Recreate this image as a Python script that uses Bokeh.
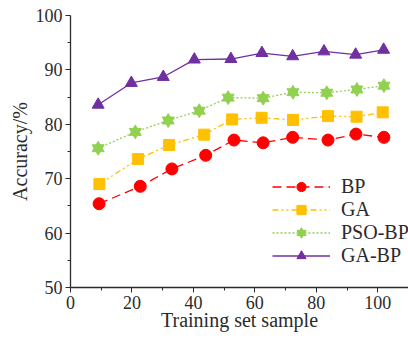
from bokeh.plotting import figure
from bokeh.models import FixedTicker, Range1d, Legend, LegendItem
from bokeh.embed import file_html
from bokeh.resources import INLINE

# Data
bp_x = [9.3, 22.7, 33.0, 44.0, 53.2, 62.7, 72.3, 83.8, 92.9, 102.0]
bp_y = [65.4, 68.6, 71.8, 74.3, 77.1, 76.6, 77.6, 77.1, 78.2, 77.6]
ga_x = [9.4, 22.0, 32.1, 43.5, 52.6, 62.2, 72.4, 83.8, 93.1, 101.6]
ga_y = [69.0, 73.6, 76.2, 78.1, 80.9, 81.2, 80.8, 81.5, 81.4, 82.2]
pso_x = [9.0, 21.1, 31.8, 41.9, 51.3, 62.7, 72.4, 83.4, 93.2, 102.0]
pso_y = [75.6, 78.6, 80.7, 82.5, 84.9, 84.8, 85.9, 85.8, 86.4, 87.1]
gabp_x = [9.0, 19.8, 30.2, 40.3, 52.2, 62.3, 72.3, 82.5, 92.8, 101.9]
gabp_y = [83.6, 87.6, 88.7, 91.9, 92.0, 93.1, 92.5, 93.4, 92.8, 93.7]

x_ticks = [0, 20, 40, 60, 80, 100]
x_minor = [10, 30, 50, 70, 90]
y_ticks = [50, 60, 70, 80, 90, 100]
y_minor = [55, 65, 75, 85, 95]

FONT = "Liberation Serif"
AX = "#2b2b2b"

p = figure(width=408, height=338, output_backend="svg", toolbar_location=None,
           x_range=Range1d(0, 110), y_range=Range1d(50, 100),
           min_border_left=70, min_border_right=0, min_border_top=15, min_border_bottom=51)
p.outline_line_color = None
p.xgrid.visible = False
p.ygrid.visible = False
p.background_fill_color = "white"

p.xaxis.ticker = FixedTicker(ticks=x_ticks, minor_ticks=x_minor)
p.yaxis.ticker = FixedTicker(ticks=y_ticks, minor_ticks=y_minor)
p.xaxis.axis_label = "Training set sample"
p.yaxis.axis_label = "Accuracy/%"
for ax in (p.xaxis, p.yaxis):
    ax.axis_line_color = AX
    ax.axis_line_width = 1.3
    ax.major_tick_line_color = AX
    ax.minor_tick_line_color = AX
    ax.major_tick_out = 5
    ax.major_tick_in = 0
    ax.minor_tick_out = 3
    ax.minor_tick_in = 0
    ax.major_label_text_font = FONT
    ax.major_label_text_font_size = "18px"
    ax.major_label_text_color = AX
    ax.axis_label_text_font = FONT
    ax.axis_label_text_font_size = "20px"
    ax.axis_label_text_font_style = "normal"
    ax.axis_label_text_color = AX
    ax.major_label_standoff = 3
    ax.axis_label_standoff = 2
p.xaxis.axis_label_standoff = -3

RED, ORANGE, GREEN, PURPLE = "#FF0000", "#FFC000", "#92D050", "#7030A0"

l1 = p.line(bp_x, bp_y, line_color=RED, line_width=1.3, line_dash="9 5")
m1 = p.scatter(bp_x, bp_y, marker="circle", size=12, fill_color=RED, line_color=RED)

l2 = p.line(ga_x, ga_y, line_color=ORANGE, line_width=1.3, line_dash="6 3 2 3 2 3")
m2 = p.scatter(ga_x, ga_y, marker="square", size=11, fill_color=ORANGE, line_color=ORANGE)

l3 = p.line(pso_x, pso_y, line_color=GREEN, line_width=1.3, line_dash="2 2")
m3a = p.scatter(pso_x, pso_y, marker="triangle", size=12, fill_color=GREEN, line_color=GREEN)
m3b = p.scatter(pso_x, pso_y, marker="inverted_triangle", size=12, fill_color=GREEN, line_color=GREEN)

l4 = p.line(gabp_x, gabp_y, line_color=PURPLE, line_width=1.3)
m4 = p.scatter(gabp_x, gabp_y, marker="triangle", size=12, fill_color=PURPLE, line_color=PURPLE)

legend = Legend(items=[
    LegendItem(label="BP", renderers=[l1, m1]),
    LegendItem(label="GA", renderers=[l2, m2]),
    LegendItem(label="PSO-BP", renderers=[l3, m3a, m3b]),
    LegendItem(label="GA-BP", renderers=[l4, m4]),
], location=(202, 20))
legend.glyph_width = 58
legend.glyph_height = 23
legend.label_height = 23
legend.spacing = 0
legend.padding = 0
legend.margin = 0
legend.label_standoff = 11
legend.border_line_color = None
legend.background_fill_alpha = 0
legend.label_text_font = FONT
legend.label_text_font_size = "20px"
legend.label_text_color = AX
p.add_layout(legend)

open("out.html", "w").write(file_html(p, INLINE))
